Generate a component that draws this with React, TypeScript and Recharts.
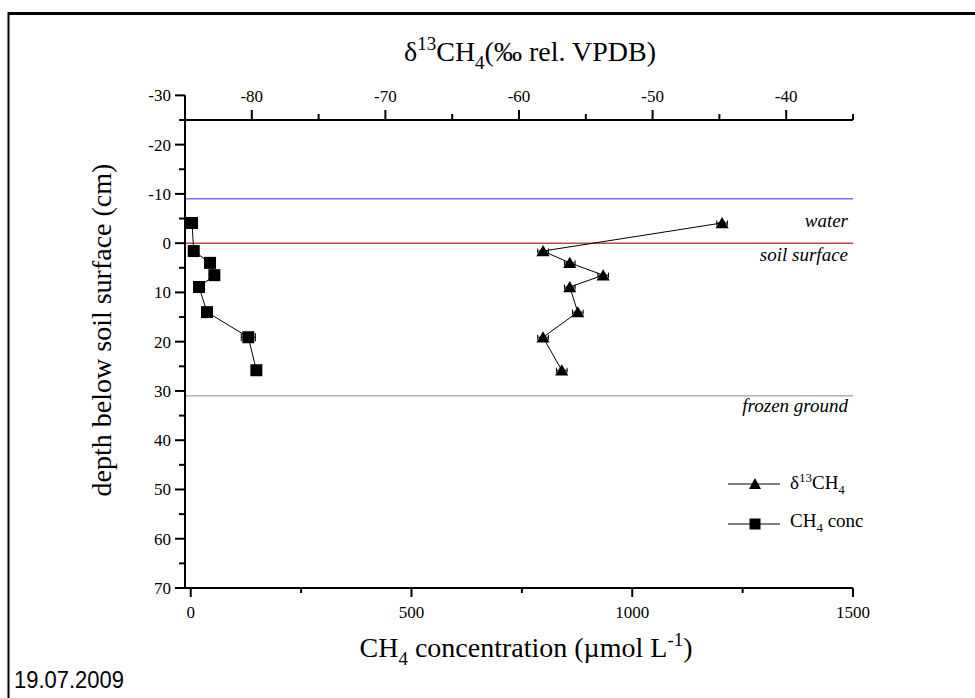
import React from "react";
import {
  ComposedChart,
  Scatter,
  XAxis,
  YAxis,
  ReferenceLine,
  ErrorBar,
  Legend,
  Label,
} from "recharts";

// depth of each sample (cm below soil surface, negative = above)
const depths = [-4.1, 1.6, 4.0, 6.5, 8.9, 14.0, 19.1, 25.8];
// CH4 concentration (µmol/L)
const ch4Conc = [2.9, 6.8, 43.7, 53.5, 18.8, 36.9, 130.5, 148.6];
const ch4ConcErr = [0, 0, 0, 0, 0, 0, 16, 0];
// d13C-CH4 (permil rel. VPDB)
const d13c = [-44.8, -58.2, -56.2, -53.7, -56.2, -55.6, -58.2, -56.8];
const d13cErr = [0.4, 0.4, 0.4, 0.4, 0.4, 0.4, 0.4, 0.4];

const depthTicks = [-30, -25, -20, -15, -10, -5, 0, 5, 10, 15, 20, 25, 30, 35, 40, 45, 50, 55, 60, 65, 70];
const concTicks = [0, 250, 500, 750, 1000, 1250, 1500];
const d13Ticks = [-80, -75, -70, -65, -60, -55, -50, -45, -40, -35];

const waterLevel = -9;
const soilSurface = 0;
const frozenGround = 31;

const concData = depths.map((d, i) => ({ depth: d, conc: ch4Conc[i], err: ch4ConcErr[i] }));
const d13Data = depths.map((d, i) => ({ depth: d, d13: d13c[i], err: d13cErr[i] }));

const SERIF = "'Liberation Serif', 'Times New Roman', serif";

const SquareDot = ({ cx, cy }: any) => (
  <rect x={cx - 6} y={cy - 6} width={12} height={12} fill="#000" />
);

const TriangleDot = ({ cx, cy }: any) => (
  <path d={`M${cx},${cy - 6} L${cx + 6.6},${cy + 5.2} L${cx - 6.6},${cy + 5.2} Z`} fill="#000" />
);

const LeftTick = ({ x, y, payload }: any) => {
  const v = payload.value;
  const major = v % 10 === 0;
  return (
    <g>
      <line x1={x - (major ? 10 : 6)} y1={y} x2={x} y2={y} stroke="#000" strokeWidth={2} />
      {major && (
        <text x={x - 14} y={y + 6} textAnchor="end" fontFamily={SERIF} fontSize={17} fill="#000">
          {v}
        </text>
      )}
    </g>
  );
};

const BottomTick = ({ x, y, payload }: any) => {
  const v = payload.value;
  const major = v % 500 === 0;
  return (
    <g>
      <line x1={x} y1={y} x2={x} y2={y + (major ? 9 : 5)} stroke="#000" strokeWidth={2} />
      {major && (
        <text x={x} y={y + 30} textAnchor="middle" fontFamily={SERIF} fontSize={17} fill="#000">
          {v}
        </text>
      )}
    </g>
  );
};

const TopTick = ({ x, y, payload }: any) => {
  const v = payload.value;
  const major = v % 10 === 0;
  return (
    <g>
      <line x1={x} y1={y} x2={x} y2={y - (major ? 10 : 6)} stroke="#000" strokeWidth={2} />
      {major && (
        <text x={x} y={y - 18} textAnchor="middle" fontFamily={SERIF} fontSize={17} fill="#000">
          {v}
        </text>
      )}
    </g>
  );
};

const TopTitle = () => (
  <text x={530} y={61} textAnchor="middle" fontFamily={SERIF} fontSize={28} fill="#000">
    δ
    <tspan dy={-11} fontSize={19}>13</tspan>
    <tspan dy={11}>CH</tspan>
    <tspan dy={8} fontSize={19}>4</tspan>
    <tspan dy={-8}>(‰ rel. VPDB)</tspan>
  </text>
);

const BottomTitle = () => (
  <text x={526} y={657} textAnchor="middle" fontFamily={SERIF} fontSize={28} fill="#000">
    CH
    <tspan dy={8} fontSize={19}>4</tspan>
    <tspan dy={-8}> concentration (µmol L</tspan>
    <tspan dy={-11} fontSize={19}>-1</tspan>
    <tspan dy={11}>)</tspan>
  </text>
);

const LeftTitle = () => (
  <text
    x={111}
    y={330}
    transform="rotate(-90 111 330)"
    textAnchor="middle"
    fontFamily={SERIF}
    fontSize={28}
    fill="#000"
  >
    depth below soil surface (cm)
  </text>
);

const lineLabel = (text: string, dy: number) => (props: any) => {
  const vb = props.viewBox;
  return (
    <text
      x={vb.x + vb.width - 5}
      y={vb.y + dy}
      textAnchor="end"
      fontFamily={SERIF}
      fontStyle="italic"
      fontSize={19}
      fill="#000"
    >
      {text}
    </text>
  );
};

const LegendRow = ({ kind, children }: any) => (
  <div style={{ display: "flex", alignItems: "center", height: 40 }}>
    <svg width={62} height={20} style={{ flex: "none" }}>
      <line x1={0} y1={10} x2={52} y2={10} stroke="#000" strokeWidth={1} />
      {kind === "triangle" ? (
        <path d="M27,4 L33,15 L21,15 Z" fill="#000" />
      ) : (
        <rect x={21.5} y={4.5} width={11} height={11} fill="#000" />
      )}
    </svg>
    <span>{children}</span>
  </div>
);

const renderLegend = () => (
  <div style={{ fontFamily: SERIF, fontSize: 19, color: "#000", lineHeight: "20px" }}>
    <LegendRow kind="triangle">
      δ<sup style={{ fontSize: 13 }}>13</sup>CH<sub style={{ fontSize: 13 }}>4</sub>
    </LegendRow>
    <LegendRow kind="square">
      CH<sub style={{ fontSize: 13 }}>4</sub> conc
    </LegendRow>
  </div>
);

export default function App() {
  return (
    <div style={{ position: "absolute", left: 0, top: 0, width: 975, height: 698, background: "#fff" }}>
      <svg width={975} height={698} style={{ position: "absolute", left: 0, top: 0 }}>
        <line x1={8} y1={13.5} x2={975} y2={13.5} stroke="#000" strokeWidth={3} />
        <line x1={8.5} y1={12} x2={8.5} y2={698} stroke="#000" strokeWidth={2} />
        <text
          x={14}
          y={688}
          fontFamily="'Liberation Sans', Arial, sans-serif"
          fontSize={23}
          textLength={110}
          lengthAdjust="spacingAndGlyphs"
          fill="#000"
        >
          19.07.2009
        </text>
      </svg>
      <div style={{ position: "absolute", left: 0, top: 0 }}>
        <ComposedChart width={975} height={698} margin={{ top: 90, right: 122, bottom: 80, left: 125 }}>
          <XAxis
            xAxisId="conc"
            dataKey="conc"
            type="number"
            orientation="bottom"
            domain={[-13, 1500]}
            allowDataOverflow
            ticks={concTicks}
            interval={0}
            height={30}
            tickSize={0}
            tickMargin={0}
            tickLine={false}
            tick={<BottomTick />}
            axisLine={{ stroke: "#000", strokeWidth: 2 }}
          >
            <Label content={BottomTitle} />
          </XAxis>
          <XAxis
            xAxisId="d13"
            dataKey="d13"
            type="number"
            orientation="top"
            domain={[-85, -35]}
            allowDataOverflow
            ticks={d13Ticks}
            interval={0}
            height={30}
            tickSize={0}
            tickMargin={0}
            tickLine={false}
            tick={<TopTick />}
            axisLine={{ stroke: "#000", strokeWidth: 2 }}
          >
            <Label content={TopTitle} />
          </XAxis>
          <YAxis
            yAxisId="d"
            dataKey="depth"
            type="number"
            domain={[-25, 70]}
            reversed
            allowDataOverflow
            ticks={depthTicks}
            interval={0}
            width={60}
            tickSize={0}
            tickMargin={0}
            tickLine={false}
            tick={<LeftTick />}
            axisLine={{ stroke: "#000", strokeWidth: 2 }}
          >
            <Label content={LeftTitle} />
          </YAxis>

          <ReferenceLine
            xAxisId="conc"
            yAxisId="d"
            segment={[
              { x: -13, y: -30 },
              { x: -13, y: -25 },
            ]}
            stroke="#000"
            strokeWidth={2}
            ifOverflow="visible"
          />
          <ReferenceLine
            xAxisId="conc"
            yAxisId="d"
            y={waterLevel}
            stroke="#7474f2"
            strokeWidth={1.5}
            label={lineLabel("water", 28.5)}
          />
          <ReferenceLine
            xAxisId="conc"
            yAxisId="d"
            y={soilSurface}
            stroke="#b84a4a"
            strokeWidth={1.5}
            label={lineLabel("soil surface", 18)}
          />
          <ReferenceLine
            xAxisId="conc"
            yAxisId="d"
            y={frozenGround}
            stroke="#8a8a8a"
            strokeWidth={1}
            label={lineLabel("frozen ground", 16.5)}
          />

          <Scatter
            name="CH4 conc"
            data={concData}
            xAxisId="conc"
            yAxisId="d"
            fill="#000"
            line={{ stroke: "#000", strokeWidth: 1 }}
            lineType="joint"
            shape={SquareDot}
            isAnimationActive={false}
          >
            <ErrorBar dataKey="err" direction="x" width={4} stroke="#000" strokeWidth={1} isAnimationActive={false} />
          </Scatter>
          <Scatter
            name="d13CH4"
            data={d13Data}
            xAxisId="d13"
            yAxisId="d"
            fill="#000"
            line={{ stroke: "#000", strokeWidth: 1 }}
            lineType="joint"
            shape={TriangleDot}
            isAnimationActive={false}
          >
            <ErrorBar dataKey="err" direction="x" width={2.5} stroke="#000" strokeWidth={1} isAnimationActive={false} />
          </Scatter>

          <Legend
            layout="vertical"
            align="center"
            verticalAlign="middle"
            content={renderLegend}
            wrapperStyle={{ left: 728, top: 464, width: 150 }}
          />
        </ComposedChart>
      </div>
    </div>
  );
}
